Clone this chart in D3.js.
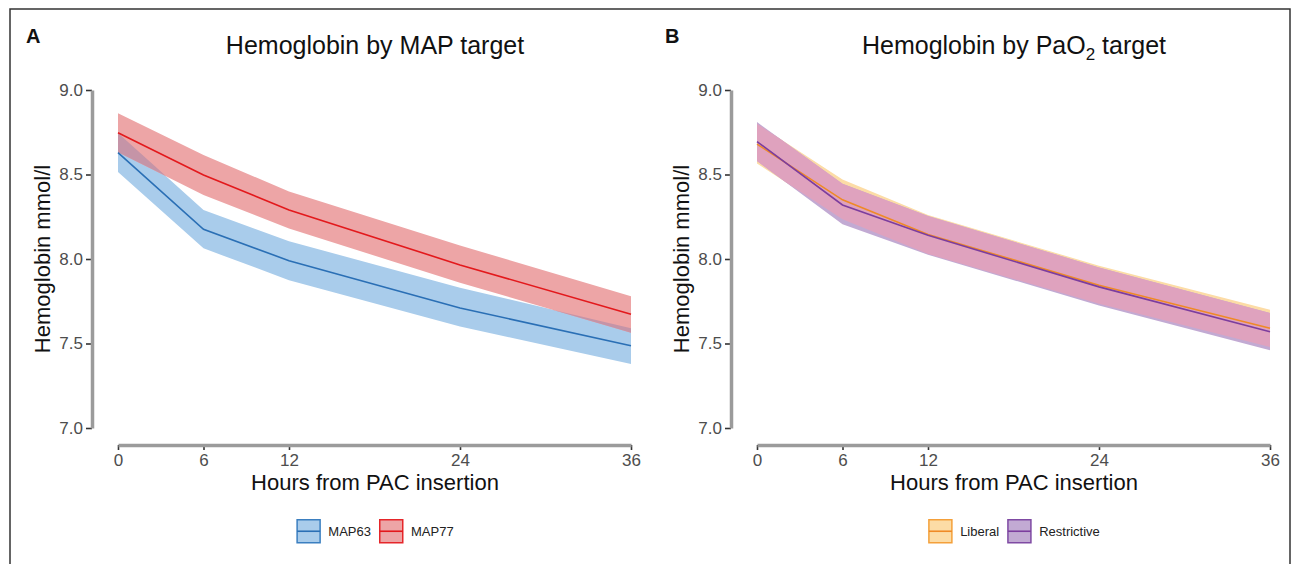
<!DOCTYPE html>
<html>
<head>
<meta charset="utf-8">
<script src="https://cdn.jsdelivr.net/npm/d3@7"></script>
<style>
  body { margin: 0; background: #fff; }
  svg { display: block; font-family: "Liberation Sans", Arial, Helvetica, sans-serif; }
</style>
</head>
<body>
<div id="chart"></div>
<script>
// ---- data ----
var hours = [0, 6, 12, 24, 36];
var yTicks = [7.0, 7.5, 8.0, 8.5, 9.0];
var xTicks = [0, 6, 12, 24, 36];

// panel A: MAP target
var map63Mean = [8.630, 8.176, 7.990, 7.710, 7.487];
var map63Lo   = [8.515, 8.063, 7.875, 7.600, 7.379];
var map63Hi   = [8.745, 8.290, 8.105, 7.830, 7.590];
var map77Mean = [8.747, 8.497, 8.290, 7.965, 7.673];
var map77Lo   = [8.632, 8.379, 8.180, 7.860, 7.564];
var map77Hi   = [8.862, 8.615, 8.400, 8.080, 7.780];

// panel B: PaO2 target
var liberalMean     = [8.680, 8.350, 8.145, 7.845, 7.590];
var liberalLo       = [8.565, 8.235, 8.030, 7.735, 7.480];
var liberalHi       = [8.800, 8.470, 8.260, 7.960, 7.700];
var restrictiveMean = [8.695, 8.320, 8.140, 7.835, 7.570];
var restrictiveLo   = [8.580, 8.205, 8.025, 7.725, 7.460];
var restrictiveHi   = [8.810, 8.445, 8.255, 7.950, 7.680];

var W = 1294, H = 564;
var svg = d3.select("#chart").append("svg").attr("width", W).attr("height", H);

// outer frame
svg.append("rect").attr("x", 10).attr("y", 9).attr("width", 1280).attr("height", 600)
  .attr("fill", "none").attr("stroke", "#333").attr("stroke-width", 1.5);

var panels = [
  {
    dx: 0, letter: "A", title: ["Hemoglobin by MAP target"],
    series: [
      {name: "MAP63", mean: map63Mean, lo: map63Lo, hi: map63Hi, line: "#2a6fb5", fill: "#a9cceb", key: "#3b7fc0"},
      {name: "MAP77", mean: map77Mean, lo: map77Lo, hi: map77Hi, line: "#e3191c", fill: "#eda5a6", key: "#e5262a"}
    ],
    overlapFill: "#c594a7"
  },
  {
    dx: 639, letter: "B", title: ["Hemoglobin by PaO", "2", " target"],
    series: [
      {name: "Liberal", mean: liberalMean, lo: liberalLo, hi: liberalHi, line: "#ef8a26", fill: "#fcdca6", key: "#f4a03a"},
      {name: "Restrictive", mean: restrictiveMean, lo: restrictiveLo, hi: restrictiveHi, line: "#7c3d9e", fill: "#c2aad3", key: "#7f4aa3"}
    ],
    overlapFill: "#dfa2be"
  }
];

// intersection of two bands, split where any two edges cross
function bandOverlap(xs, a, b) {
  var out = [];
  var fns = [a.lo, a.hi, b.lo, b.hi];
  for (var i = 0; i < xs.length - 1; i++) {
    var ts = [0, 1];
    for (var p = 0; p < 4; p++) {
      for (var q = p + 1; q < 4; q++) {
        var d0 = fns[p][i] - fns[q][i], d1 = fns[p][i + 1] - fns[q][i + 1];
        if (d0 * d1 < 0) ts.push(d0 / (d0 - d1));
      }
    }
    ts.sort(function (u, v) { return u - v; });
    ts.forEach(function (s) {
      var ev = function (f) { return f[i] + (f[i + 1] - f[i]) * s; };
      var top = Math.min(ev(a.hi), ev(b.hi));
      var bot = Math.max(ev(a.lo), ev(b.lo));
      out.push({x: xs[i] + (xs[i + 1] - xs[i]) * s, y0: bot, y1: Math.max(top, bot)});
    });
  }
  return out;
}

panels.forEach(function (pn) {
  var g = svg.append("g").attr("transform", "translate(" + pn.dx + ",0)");
  var x = d3.scaleLinear().domain([0, 36]).range([118, 631]);
  var y = d3.scaleLinear().domain([7, 9]).range([428, 90]);

  // panel letter
  g.append("text").attr("x", 26).attr("y", 43).attr("font-size", 20).attr("font-weight", "bold")
    .attr("fill", "#111").text(pn.letter);

  // title
  var t = g.append("text").attr("x", 375).attr("y", 54).attr("text-anchor", "middle")
    .attr("font-size", 25).attr("fill", "#111");
  if (pn.title.length === 1) t.text(pn.title[0]);
  else {
    t.append("tspan").text(pn.title[0]);
    t.append("tspan").attr("font-size", 17).attr("dy", 6).text(pn.title[1]);
    t.append("tspan").attr("dy", -6).text(pn.title[2]);
  }

  // bands
  var area = d3.area().x(function (d) { return x(d.x); })
    .y0(function (d) { return y(d.y0); }).y1(function (d) { return y(d.y1); });
  pn.series.forEach(function (s) {
    var pts = hours.map(function (h, i) { return {x: h, y0: s.lo[i], y1: s.hi[i]}; });
    g.append("path").datum(pts).attr("d", area).attr("fill", s.fill);
  });
  var ov = bandOverlap(hours, pn.series[0], pn.series[1]);
  g.append("path").datum(ov).attr("d", area).attr("fill", pn.overlapFill);

  // lines
  var line = d3.line().x(function (d) { return x(d.x); }).y(function (d) { return y(d.y); });
  pn.series.forEach(function (s) {
    var pts = hours.map(function (h, i) { return {x: h, y: s.mean[i]}; });
    g.append("path").datum(pts).attr("d", line).attr("fill", "none")
      .attr("stroke", s.line).attr("stroke-width", 1.6);
  });

  // axes
  var yAxis = g.append("g").attr("transform", "translate(92,0)")
    .call(d3.axisLeft(y).tickValues(yTicks).tickFormat(d3.format(".1f")).tickSize(6).tickSizeOuter(0).tickPadding(3));
  var xAxis = g.append("g").attr("transform", "translate(0,445)")
    .call(d3.axisBottom(x).tickValues(xTicks).tickSize(5).tickSizeOuter(0).tickPadding(4));
  [yAxis, xAxis].forEach(function (ax) {
    ax.select(".domain").attr("stroke", "#9b9b9b").attr("stroke-width", 3.5).raise();
    ax.selectAll(".tick line").attr("stroke", "#333").attr("stroke-width", 1.6);
    ax.selectAll(".tick text").attr("fill", "#4d4d4d").attr("font-size", 17)
      .attr("font-family", "'Liberation Sans', Arial, sans-serif");
  });

  // axis titles
  g.append("text").attr("transform", "translate(50,259) rotate(-90)").attr("text-anchor", "middle")
    .attr("font-size", 22).attr("fill", "#111").text("Hemoglobin mmol/l");
  g.append("text").attr("x", 375).attr("y", 490).attr("text-anchor", "middle")
    .attr("font-size", 22).attr("fill", "#111").text("Hours from PAC insertion");

  // legend
  var keyW = 23, gap = 9, spacing = 8;
  var lg = g.append("g");
  var cx = 0;
  pn.series.forEach(function (s) {
    var it = lg.append("g").attr("transform", "translate(" + cx + ",0)");
    it.append("rect").attr("x", 0.75).attr("y", 0.75).attr("width", keyW).attr("height", keyW)
      .attr("fill", s.fill).attr("stroke", s.key).attr("stroke-width", 1.5);
    it.append("line").attr("x1", 0.75).attr("x2", keyW + 0.75).attr("y1", keyW / 2 + 0.75).attr("y2", keyW / 2 + 0.75)
      .attr("stroke", s.line).attr("stroke-width", 1.6);
    var tx = it.append("text").attr("x", keyW + gap).attr("y", keyW / 2 + 5.5)
      .attr("font-size", 13).attr("fill", "#222").text(s.name);
    cx += keyW + gap + tx.node().getComputedTextLength() + spacing;
  });
  var total = cx - spacing;
  lg.attr("transform", "translate(" + (375 - total / 2) + ",519)");
});
</script>
</body>
</html>
